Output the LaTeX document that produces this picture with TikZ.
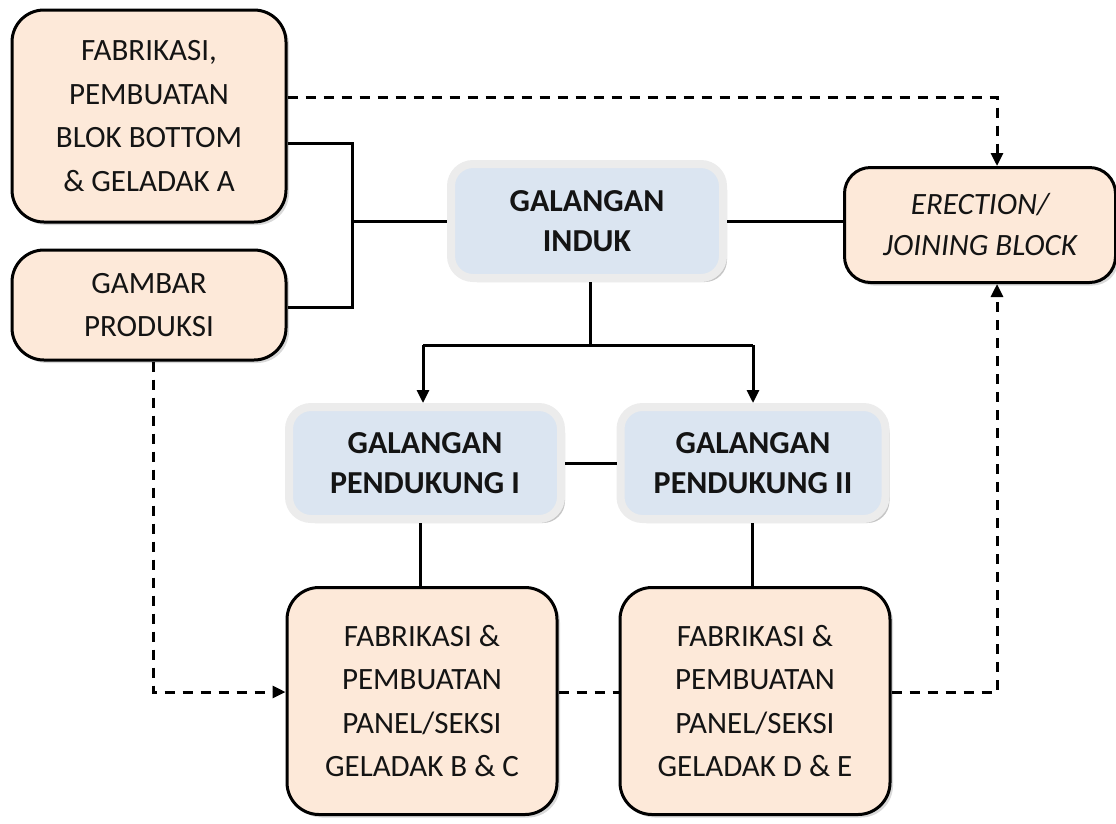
\documentclass[tikz,border=0pt]{standalone}
\usepackage{fontspec}
\setmainfont{Carlito}
\usetikzlibrary{arrows.meta,shadows,calc}
\definecolor{peach}{HTML}{FDE9D9}
\definecolor{paleblue}{HTML}{DBE5F1}
\definecolor{rim}{HTML}{ECECEC}
\definecolor{ink}{HTML}{141414}
\begin{document}
\begin{tikzpicture}[x=1pt,y=-1pt,
  txt/.style={align=center,text=ink,font=\fontsize{31}{43.5}\selectfont},
  workbox/.style={txt,draw=black,line width=3pt,fill=peach,rounded corners=32pt,
    drop shadow={opacity=0.3,shadow xshift=3pt,shadow yshift=-3pt}},
  yardbox/.style={txt,font=\fontsize{32}{40}\selectfont\bfseries,draw=rim,line width=8pt,fill=paleblue,rounded corners=22pt,
    drop shadow={opacity=0.45,shadow xshift=4pt,shadow yshift=-4pt}},
  link/.style={draw=black,line width=3pt},
  flow/.style={draw=black,line width=3pt,dash pattern=on 10pt off 8pt},
  tip/.style={-{Triangle[length=13pt,width=12pt]}}]
\useasboundingbox (0,0) rectangle (1116,823);

% process boxes
\node[workbox,minimum width=274pt,minimum height=212pt] (A) at (149,116)
  {FABRIKASI,\\PEMBUATAN\\BLOK BOTTOM\\\& GELADAK A};
\node[workbox,minimum width=274pt,minimum height=110pt] (G) at (149,305)
  {GAMBAR\\PRODUKSI};
\node[workbox,rounded corners=26pt,minimum width=271pt,minimum height=115pt,font=\fontsize{31}{41}\selectfont\itshape] (E) at (980,225)
  {ERECTION/\\JOINING BLOCK};
\node[workbox,minimum width=270pt,minimum height=227pt] (BC) at (422,701)
  {FABRIKASI \&\\PEMBUATAN\\PANEL/SEKSI\\GELADAK B \& C};
\node[workbox,minimum width=270pt,minimum height=227pt] (DE) at (755,701)
  {FABRIKASI \&\\PEMBUATAN\\PANEL/SEKSI\\GELADAK D \& E};

% shipyard boxes
\node[yardbox,minimum width=272pt,minimum height=114pt] (I) at (587,221)
  {GALANGAN\\INDUK};
\node[yardbox,minimum width=272pt,minimum height=112pt] (P1) at (425,463)
  {GALANGAN\\PENDUKUNG I};
\node[yardbox,minimum width=265pt,minimum height=112pt] (P2) at (753,463)
  {GALANGAN\\PENDUKUNG II};

% junction points
\coordinate (jT) at (352,143);
\coordinate (jB) at (352,307);
\coordinate (sp) at (590,345);
\coordinate (d1) at (997,97);
\coordinate (d2) at (153,692);
\coordinate (d3) at (997,692);

% solid links
\draw[link] (jT -| A.east) -- (jT) -- (jB) -- (jB -| G.east);
\draw[link] (I.west -| jT) -- (I.west);
\draw[link] (I.east) -- (I.east -| E.west);
\draw[link] (I.south -| sp) -- (sp);
\draw[link] ($(sp -| P1.north)+(-2,0)$) -- ($(sp -| P2.north)$);
\draw[link,tip] ($(sp -| P1.north)+(-2,0)$) -- ($(P1.north)+(-2,0)$);
\draw[link,tip] (sp -| P2.north) -- (P2.north);
\draw[link] (P1.east) -- (P2.west);
\draw[link] ($(P1.south)+(-5,0)$) -- ($(P1.south |- BC.north)+(-5,0)$);
\draw[link] ($(P2.south)+(-1,0)$) -- ($(P2.south |- DE.north)+(-1,0)$);

% dashed flows
\draw[flow,tip] (d1 -| A.east) -- (d1) -- (d1 |- E.north);
\draw[flow,tip] (G.south -| d2) -- (d2) -- (d2 -| BC.west);
\draw[flow] (d2 -| BC.east) -- (d2 -| DE.west);
\draw[flow,tip] (d3 -| DE.east) -- (d3) -- (d3 |- E.south);
\end{tikzpicture}
\end{document}
